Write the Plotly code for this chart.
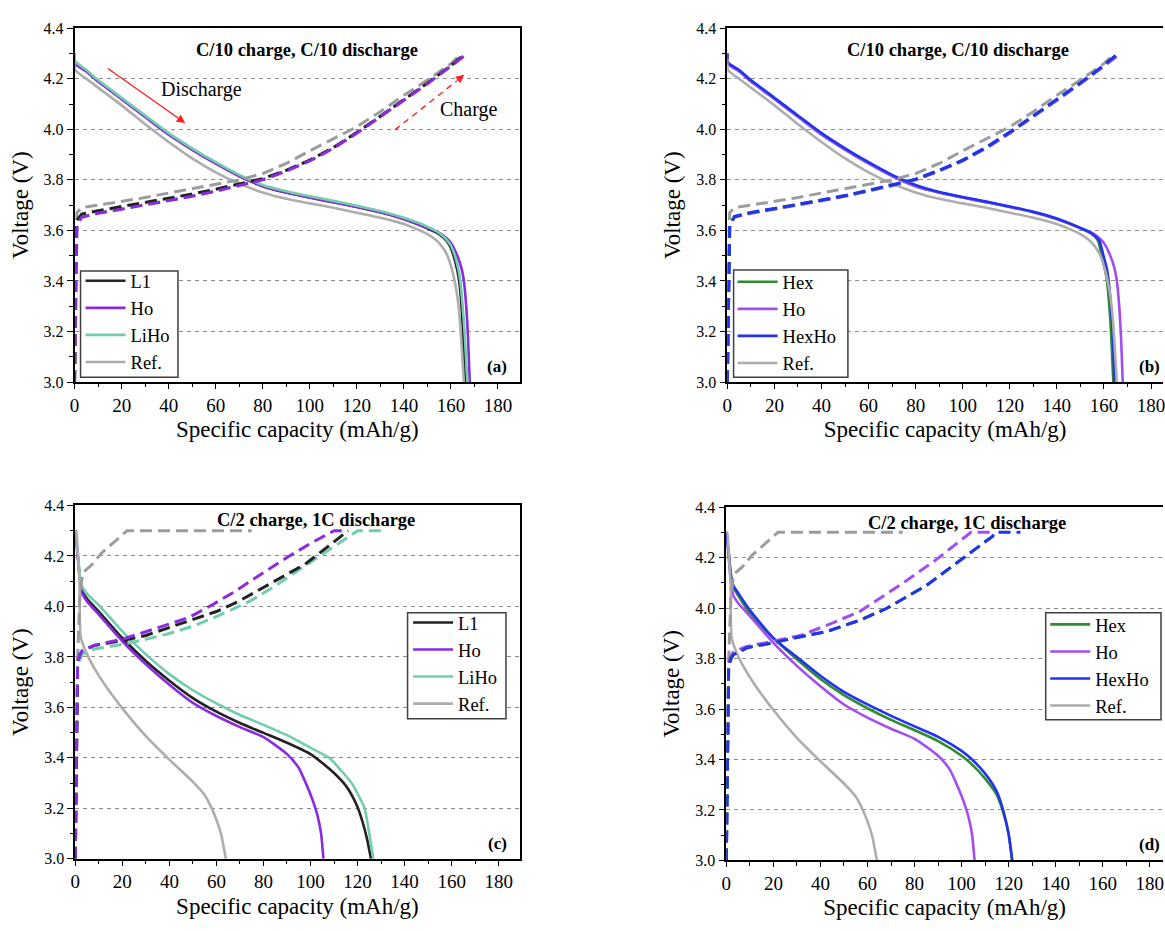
import plotly.graph_objects as go

# ---------------- Panel (a)/(b): C/10 charge, C/10 discharge ----------------
# discharge (solid) – specific capacity (mAh/g) and voltage (V)
a_L1_dis_q = [0, 0.3, 5, 10, 20, 30, 40, 50, 60, 70, 80, 90, 100, 110, 120, 130, 140, 150, 155, 158, 160, 162, 163.5, 164.5, 165.3, 166]
a_L1_dis_v = [4.30, 4.26, 4.23, 4.19, 4.12, 4.05, 3.98, 3.92, 3.865, 3.815, 3.775, 3.75, 3.73, 3.712, 3.693, 3.672, 3.645, 3.608, 3.585, 3.56, 3.53, 3.47, 3.40, 3.30, 3.15, 3.0]
ho_c10_dis_q = [0, 0.3, 5, 10, 20, 30, 40, 50, 60, 70, 80, 90, 100, 110, 120, 130, 140, 150, 155, 158, 160, 162.7, 164.5, 165.5, 166.5, 167.3, 168]
ho_c10_dis_v = [4.30, 4.26, 4.23, 4.19, 4.12, 4.05, 3.98, 3.92, 3.865, 3.815, 3.775, 3.75, 3.73, 3.712, 3.693, 3.672, 3.645, 3.61, 3.59, 3.57, 3.55, 3.50, 3.45, 3.40, 3.30, 3.17, 3.0]
a_LiHo_dis_q = [0, 0.3, 5, 10, 20, 30, 40, 50, 60, 70, 80, 90, 100, 110, 120, 130, 140, 150, 155, 158, 160, 162, 164, 165, 166, 167]
a_LiHo_dis_v = [4.30, 4.27, 4.235, 4.195, 4.125, 4.055, 3.985, 3.925, 3.87, 3.82, 3.78, 3.755, 3.735, 3.717, 3.698, 3.677, 3.65, 3.615, 3.59, 3.565, 3.54, 3.49, 3.40, 3.30, 3.17, 3.0]
ref_c10_dis_q = [0, 0.3, 5, 10, 20, 30, 40, 50, 60, 70, 80, 90, 100, 110, 120, 130, 140, 145, 150, 155, 158, 160, 162, 163.5, 164.5, 165.5]
ref_c10_dis_v = [4.28, 4.235, 4.20, 4.165, 4.095, 4.02, 3.95, 3.885, 3.83, 3.785, 3.75, 3.725, 3.707, 3.69, 3.67, 3.65, 3.625, 3.607, 3.585, 3.55, 3.51, 3.46, 3.38, 3.28, 3.15, 3.0]
b_Hex_dis_q = [0, 0.3, 5, 10, 20, 30, 40, 50, 60, 70, 80, 90, 100, 110, 120, 130, 140, 150, 155, 157.5, 159, 160.3, 161.3, 162.3, 163, 164]
b_Hex_dis_v = [4.30, 4.26, 4.23, 4.19, 4.12, 4.05, 3.98, 3.92, 3.865, 3.815, 3.775, 3.75, 3.73, 3.712, 3.693, 3.672, 3.645, 3.608, 3.585, 3.56, 3.50, 3.45, 3.40, 3.30, 3.20, 3.0]
b_HexHo_dis_q = [0, 0.3, 5, 10, 20, 30, 40, 50, 60, 70, 80, 90, 100, 110, 120, 130, 140, 150, 155, 158, 159.8, 161.2, 162, 163, 163.7, 164.5]
b_HexHo_dis_v = [4.30, 4.265, 4.235, 4.195, 4.125, 4.055, 3.985, 3.925, 3.87, 3.82, 3.78, 3.752, 3.732, 3.714, 3.695, 3.674, 3.647, 3.61, 3.587, 3.56, 3.50, 3.45, 3.40, 3.30, 3.20, 3.0]

# charge (dashed)
a_L1_chg_q = [0, 0.5, 1, 3, 10, 20, 30, 40, 50, 60, 70, 80, 90, 100, 110, 120, 130, 140, 150, 160, 166]
a_L1_chg_v = [3.0, 3.5, 3.64, 3.665, 3.678, 3.694, 3.71, 3.727, 3.744, 3.763, 3.783, 3.805, 3.838, 3.878, 3.928, 3.988, 4.052, 4.117, 4.183, 4.252, 4.30]
ho_c10_chg_q = [0, 0.5, 1, 3, 6, 10, 20, 30, 40, 50, 60, 70, 80, 90, 100, 110, 120, 130, 140, 150, 160, 167]
ho_c10_chg_v = [3.0, 3.45, 3.62, 3.652, 3.66, 3.668, 3.684, 3.70, 3.717, 3.735, 3.755, 3.777, 3.80, 3.835, 3.875, 3.925, 3.985, 4.05, 4.115, 4.18, 4.25, 4.30]
a_LiHo_chg_q = [0, 0.5, 1, 3, 6, 10, 20, 30, 40, 50, 60, 70, 80, 90, 100, 110, 120, 130, 140, 150, 160, 166.5]
a_LiHo_chg_v = [3.0, 3.45, 3.62, 3.655, 3.662, 3.67, 3.686, 3.702, 3.719, 3.737, 3.757, 3.779, 3.802, 3.837, 3.877, 3.927, 3.987, 4.052, 4.117, 4.183, 4.253, 4.30]
ref_c10_chg_q = [0, 0.5, 1, 3, 10, 20, 30, 40, 50, 60, 70, 80, 90, 100, 110, 120, 130, 140, 150, 160, 164.5]
ref_c10_chg_v = [3.0, 3.55, 3.67, 3.69, 3.70, 3.715, 3.73, 3.748, 3.765, 3.783, 3.80, 3.825, 3.865, 3.915, 3.962, 4.01, 4.07, 4.135, 4.195, 4.26, 4.30]
b_Hex_chg_q = [0, 0.5, 1, 3, 6, 10, 20, 30, 40, 50, 60, 70, 80, 90, 100, 110, 120, 130, 140, 150, 160, 166]
b_Hex_chg_v = [3.0, 3.45, 3.62, 3.655, 3.662, 3.67, 3.686, 3.702, 3.719, 3.737, 3.757, 3.779, 3.802, 3.837, 3.877, 3.928, 3.988, 4.052, 4.117, 4.183, 4.253, 4.30]
b_HexHo_chg_q = [0, 0.5, 1, 3, 6, 10, 20, 30, 40, 50, 60, 70, 80, 90, 100, 110, 120, 130, 140, 150, 160, 166]
b_HexHo_chg_v = [3.0, 3.45, 3.62, 3.655, 3.663, 3.671, 3.687, 3.703, 3.72, 3.738, 3.758, 3.78, 3.803, 3.838, 3.878, 3.929, 3.989, 4.053, 4.118, 4.184, 4.254, 4.30]

# ---------------- Panel (c)/(d): C/2 charge, 1C discharge ----------------
c_L1_dis_q = [0, 1, 2, 3, 5, 10, 20, 30, 40, 50, 60, 70, 80, 90, 100, 105, 110, 115, 118, 120, 122, 124, 125.7]
c_L1_dis_v = [4.30, 4.21, 4.11, 4.06, 4.03, 3.98, 3.875, 3.784, 3.706, 3.637, 3.583, 3.538, 3.499, 3.46, 3.415, 3.38, 3.34, 3.29, 3.245, 3.205, 3.15, 3.08, 3.0]
ho_1c_dis_q = [0, 1, 2, 3, 5, 10, 20, 30, 40, 50, 60, 70, 80, 90, 95, 98, 101, 103, 104.5, 105.5]
ho_1c_dis_v = [4.30, 4.20, 4.10, 4.05, 4.02, 3.968, 3.862, 3.771, 3.69, 3.618, 3.566, 3.522, 3.482, 3.415, 3.36, 3.30, 3.23, 3.17, 3.10, 3.0]
c_LiHo_dis_q = [0, 1, 2, 3, 5, 10, 20, 30, 40, 50, 60, 70, 80, 90, 100, 108, 113, 117.5, 120.5, 123, 125, 126.7]
c_LiHo_dis_v = [4.30, 4.22, 4.12, 4.078, 4.05, 4.005, 3.901, 3.81, 3.732, 3.668, 3.616, 3.57, 3.531, 3.49, 3.44, 3.40, 3.35, 3.30, 3.25, 3.20, 3.10, 3.0]
ref_1c_dis_q = [0, 0.4, 1, 1.8, 2.3, 5, 10, 20, 30, 40, 50, 55, 58, 60, 62, 64]
ref_1c_dis_v = [4.30, 4.30, 4.22, 4.10, 3.88, 3.81, 3.726, 3.596, 3.486, 3.393, 3.305, 3.253, 3.20, 3.155, 3.097, 3.0]
d_Hex_dis_q = [0, 1, 2, 3, 5, 10, 20, 30, 40, 50, 60, 70, 80, 90, 100, 105, 110, 115, 118, 120, 121.5]
d_Hex_dis_v = [4.30, 4.22, 4.12, 4.082, 4.05, 3.979, 3.881, 3.797, 3.719, 3.655, 3.603, 3.557, 3.516, 3.473, 3.415, 3.375, 3.324, 3.259, 3.181, 3.104, 3.0]
d_HexHo_dis_q = [0, 1, 2, 3, 5, 10, 20, 30, 40, 50, 60, 70, 80, 90, 100, 105, 110, 115, 118, 120, 121.5]
d_HexHo_dis_v = [4.30, 4.22, 4.13, 4.089, 4.06, 3.992, 3.881, 3.806, 3.732, 3.668, 3.618, 3.573, 3.531, 3.49, 3.434, 3.395, 3.344, 3.272, 3.188, 3.104, 3.0]

c_L1_chg_q = [0, 0.5, 1, 2, 3, 8, 20, 30, 41, 50, 60, 69, 83, 97.6, 107.5, 116]
c_L1_chg_v = [3.0, 3.4, 3.78, 3.81, 3.825, 3.845, 3.865, 3.885, 3.92, 3.95, 3.98, 4.018, 4.09, 4.167, 4.238, 4.30]
c_Ho_chg_q = [0, 0.5, 1, 2, 3, 8, 20, 28, 40, 48, 58, 68, 76, 91, 101, 110, 116]
c_Ho_chg_v = [3.0, 3.4, 3.78, 3.81, 3.825, 3.846, 3.87, 3.894, 3.93, 3.955, 4.005, 4.06, 4.11, 4.20, 4.255, 4.30, 4.30]
c_LiHo_chg_q = [0, 0.5, 1, 2, 3, 7.5, 20, 29.5, 40, 49.4, 58, 66, 75, 83.4, 97.6, 111.8, 120, 131.5]
c_LiHo_chg_v = [3.0, 3.4, 3.76, 3.79, 3.81, 3.83, 3.85, 3.869, 3.893, 3.92, 3.952, 3.985, 4.025, 4.072, 4.16, 4.25, 4.30, 4.30]
ref_1c_chg_q = [0, 0.5, 1, 2, 3, 4, 7, 11, 16, 22, 75]
ref_1c_chg_v = [3.0, 3.5, 3.8, 4.05, 4.12, 4.14, 4.165, 4.21, 4.25, 4.30, 4.30]
d_Hex_chg_q = [0, 0.5, 1, 2, 3, 8.9, 20, 28.6, 42.7, 56.8, 68, 85, 99, 113, 114.5]
d_Hex_chg_v = [3.0, 3.4, 3.77, 3.80, 3.815, 3.843, 3.862, 3.881, 3.907, 3.952, 3.998, 4.089, 4.186, 4.283, 4.30]
d_Ho_chg_q = [0, 0.5, 1, 2, 3, 8, 20, 31.4, 45, 56.8, 73.7, 89, 104, 114.5]
d_Ho_chg_v = [3.0, 3.4, 3.78, 3.81, 3.825, 3.846, 3.87, 3.891, 3.94, 3.987, 4.09, 4.19, 4.30, 4.30]
d_HexHo_chg_q = [0, 0.5, 1, 2, 3, 8.9, 20, 28.6, 42.7, 56.8, 68, 85, 99, 113, 114.5, 125]
d_HexHo_chg_v = [3.0, 3.4, 3.77, 3.80, 3.815, 3.843, 3.862, 3.881, 3.907, 3.952, 3.998, 4.089, 4.186, 4.283, 4.30, 4.30]

panel_titles = ["C/10 charge, C/10 discharge", "C/10 charge, C/10 discharge",
                "C/2 charge, 1C discharge", "C/2 charge, 1C discharge"]
panel_tags = ["(a)", "(b)", "(c)", "(d)"]
y_ticks = [3.0, 3.2, 3.4, 3.6, 3.8, 4.0, 4.2, 4.4]

# colours
C_L1 = "#222222"
C_HO_A = "#8A2BE2"
C_HO_B = "#A24CF2"
C_LIHO = "#72CCAE"
C_HEX = "#2E8B2E"
C_HEXHO = "#2233F0"
C_REF = "#ADADAD"
C_REF_CHG = "#9C9C9C"

FONT = "Liberation Serif"
DASH = "12px,6px"
W, H = 1165, 931

fig = go.Figure()


def refs(panel):
    s = "" if panel == 1 else str(panel)
    return "x" + s, "y" + s, "legend" + s


def add_discharge(panel, name, color, q, v):
    xa, ya, lg = refs(panel)
    fig.add_trace(go.Scatter(x=q, y=v, mode="lines", name=name,
                             line=dict(color=color, width=2.6, shape="spline", smoothing=0.6),
                             xaxis=xa, yaxis=ya, legend=lg))


def add_charge(panel, name, color, q, v):
    xa, ya, lg = refs(panel)
    fig.add_trace(go.Scatter(x=q, y=v, mode="lines", name=name, showlegend=False,
                             line=dict(color=color, width=3, dash=DASH),
                             xaxis=xa, yaxis=ya, legend=lg))


# (a)
add_discharge(1, "L1", C_L1, a_L1_dis_q, a_L1_dis_v)
add_discharge(1, "Ho", C_HO_A, ho_c10_dis_q, ho_c10_dis_v)
add_discharge(1, "LiHo", C_LIHO, a_LiHo_dis_q, a_LiHo_dis_v)
add_discharge(1, "Ref.", C_REF, ref_c10_dis_q, ref_c10_dis_v)
add_charge(1, "Ref.", C_REF_CHG, ref_c10_chg_q, ref_c10_chg_v)
add_charge(1, "LiHo", C_LIHO, a_LiHo_chg_q, a_LiHo_chg_v)
add_charge(1, "L1", C_L1, a_L1_chg_q, a_L1_chg_v)
add_charge(1, "Ho", C_HO_A, ho_c10_chg_q, ho_c10_chg_v)
# (b)
add_discharge(2, "Hex", C_HEX, b_Hex_dis_q, b_Hex_dis_v)
add_discharge(2, "Ho", C_HO_B, ho_c10_dis_q, ho_c10_dis_v)
add_discharge(2, "HexHo", C_HEXHO, b_HexHo_dis_q, b_HexHo_dis_v)
add_discharge(2, "Ref.", C_REF, ref_c10_dis_q, ref_c10_dis_v)
add_charge(2, "Ref.", C_REF_CHG, ref_c10_chg_q, ref_c10_chg_v)
add_charge(2, "Ho", C_HO_B, ho_c10_chg_q, ho_c10_chg_v)
add_charge(2, "Hex", C_HEX, b_Hex_chg_q, b_Hex_chg_v)
add_charge(2, "HexHo", C_HEXHO, b_HexHo_chg_q, b_HexHo_chg_v)
# (c)
add_discharge(3, "L1", C_L1, c_L1_dis_q, c_L1_dis_v)
add_discharge(3, "Ho", C_HO_A, ho_1c_dis_q, ho_1c_dis_v)
add_discharge(3, "LiHo", C_LIHO, c_LiHo_dis_q, c_LiHo_dis_v)
add_discharge(3, "Ref.", C_REF, ref_1c_dis_q, ref_1c_dis_v)
add_charge(3, "Ref.", C_REF_CHG, ref_1c_chg_q, ref_1c_chg_v)
add_charge(3, "LiHo", C_LIHO, c_LiHo_chg_q, c_LiHo_chg_v)
add_charge(3, "L1", C_L1, c_L1_chg_q, c_L1_chg_v)
add_charge(3, "Ho", C_HO_A, c_Ho_chg_q, c_Ho_chg_v)
# (d)
add_discharge(4, "Hex", C_HEX, d_Hex_dis_q, d_Hex_dis_v)
add_discharge(4, "Ho", C_HO_B, ho_1c_dis_q, ho_1c_dis_v)
add_discharge(4, "HexHo", C_HEXHO, d_HexHo_dis_q, d_HexHo_dis_v)
add_discharge(4, "Ref.", C_REF, ref_1c_dis_q, ref_1c_dis_v)
add_charge(4, "Ref.", C_REF_CHG, ref_1c_chg_q, ref_1c_chg_v)
add_charge(4, "Ho", C_HO_B, d_Ho_chg_q, d_Ho_chg_v)
add_charge(4, "Hex", C_HEX, d_Hex_chg_q, d_Hex_chg_v)
add_charge(4, "HexHo", C_HEXHO, d_HexHo_chg_q, d_HexHo_chg_v)

# axis geometry per panel: x domain, y domain, x range, right border shown
panels = {
    1: dict(xd=[0.0601, 0.4446], yd=[0.5908, 0.9778], xr=[0, 189.3], right=True),
    2: dict(xd=[0.6238, 1.0], yd=[0.5908, 0.9778], xr=[0, 185.1], right=False),
    3: dict(xd=[0.0607, 0.4444], yd=[0.0691, 0.4557], xr=[0, 188.9], right=True),
    4: dict(xd=[0.6229, 1.0], yd=[0.0673, 0.4540], xr=[0, 185.6], right=False),
}

for i, p in panels.items():
    xa, ya, _ = refs(i)
    xk = "xaxis" if i == 1 else f"xaxis{i}"
    yk = "yaxis" if i == 1 else f"yaxis{i}"
    fig.layout[xk] = dict(
        domain=p["xd"], range=p["xr"], anchor=ya, dtick=20, tick0=0,
        ticks="outside", ticklen=5, tickwidth=1.4, tickcolor="black",
        minor=dict(dtick=10, ticks="outside", ticklen=3.5, tickwidth=1.2, tickcolor="black"),
        showline=True, linecolor="black", linewidth=1.6, mirror=True,
        showgrid=False, zeroline=False, ticklabeloverflow="allow",
        tickfont=dict(family=FONT, size=19, color="black"),
        title=dict(text="Specific capacity (mAh/g)", standoff=6,
                   font=dict(family=FONT, size=23, color="black")),
    )
    fig.layout[yk] = dict(
        domain=p["yd"], range=[3.0, 4.4], anchor=xa,
        tickvals=y_ticks, tickformat=".1f",
        ticks="outside", ticklen=6, tickwidth=1.4, tickcolor="black",
        minor=dict(dtick=0.1, tick0=3.0, ticks="outside", ticklen=3.5, tickwidth=1.2, tickcolor="black"),
        showline=True, linecolor="black", linewidth=1.6, mirror=p["right"],
        showgrid=True, gridcolor="#8c8c8c", gridwidth=1, griddash="4px,4px",
        zeroline=False,
        tickfont=dict(family=FONT, size=16, color="black"),
        title=dict(text="Voltage (V)", standoff=9,
                   font=dict(family=FONT, size=23, color="black")),
    )

# legend frames (pixel boxes: left, top, right, bottom) and entry anchors (left, top)
legend_boxes = {1: (76, 268, 174, 376), 2: (733, 267, 848, 376),
                3: (405, 616, 504, 724), 4: (1047, 616, 1163, 725)}
legend_anchor = {1: (76, 259), 2: (732, 260), 3: (405.5, 607), 4: (1046.5, 609)}

shapes = []
for i, (l, t, r, b) in legend_boxes.items():
    shapes.append(dict(type="rect", xref="paper", yref="paper", layer="above",
                       x0=l / W, x1=r / W, y0=1 - b / H, y1=1 - t / H,
                       fillcolor="white", line=dict(color="#404040", width=1.5)))
for i, (lx, ly) in legend_anchor.items():
    key = "legend" if i == 1 else f"legend{i}"
    fig.layout[key] = dict(
        x=lx / W, y=1 - ly / H, xanchor="left", yanchor="top",
        bgcolor="rgba(0,0,0,0)", borderwidth=0,
        font=dict(family=FONT, size=18.5, color="black"),
        itemwidth=40, tracegroupgap=0,
    )

# panel titles and tags
title_pos = {1: (99.0, 4.315), 2: (98.1, 4.315), 3: (102.4, 4.342), 4: (102.4, 4.338)}
tag_right_px = {1: 507, 2: 1164, 3: 507, 4: 1164}
annotations = []
for i in panels:
    xa, ya, _ = refs(i)
    tx, ty = title_pos[i]
    annotations.append(dict(x=tx, y=ty, xref=xa, yref=ya, text=f"<b>{panel_titles[i-1]}</b>",
                            showarrow=False, font=dict(family=FONT, size=18.5, color="black"),
                            xanchor="center", yanchor="middle"))
    annotations.append(dict(x=tag_right_px[i] / W, y=3.062, xref="paper", yref=ya,
                            text=f"<b>{panel_tags[i-1]}</b>",
                            showarrow=False, font=dict(family=FONT, size=17, color="black"),
                            xanchor="right", yanchor="middle"))

# discharge / charge arrows in (a)
dis_arrow_tail = (13.5, 4.245)
dis_arrow_head = (47.0, 4.025)
chg_arrow_tail = (136.2, 3.998)
chg_arrow_head = (165.7, 4.216)
annotations.append(dict(x=dis_arrow_head[0], y=dis_arrow_head[1], ax=dis_arrow_tail[0], ay=dis_arrow_tail[1],
                        xref="x", yref="y", axref="x", ayref="y", showarrow=True,
                        arrowhead=2, arrowsize=1.2, arrowwidth=1.4, arrowcolor="#ff2020", text=""))
annotations.append(dict(x=36.0, y=4.156, xref="x", yref="y", text="Discharge", showarrow=False,
                        xanchor="left", yanchor="middle", font=dict(family=FONT, size=20, color="black")))
annotations.append(dict(x=chg_arrow_head[0], y=chg_arrow_head[1], ax=162.0, ay=4.189,
                        xref="x", yref="y", axref="x", ayref="y", showarrow=True,
                        arrowhead=2, arrowsize=1.2, arrowwidth=1.4, arrowcolor="#ff2020", text=""))
annotations.append(dict(x=154.3, y=4.08, xref="x", yref="y", text="Charge", showarrow=False,
                        xanchor="left", yanchor="middle", font=dict(family=FONT, size=20, color="black")))

shapes.append(dict(type="line", xref="x", yref="y", x0=chg_arrow_tail[0], y0=chg_arrow_tail[1],
                   x1=162.5, y1=4.192, line=dict(color="#ff2020", width=1.4, dash="6px,5px")))

fig.update_layout(
    width=W, height=H,
    margin=dict(l=0, r=0, t=0, b=0),
    paper_bgcolor="white", plot_bgcolor="white",
    font=dict(family=FONT, color="black"),
    annotations=annotations, shapes=shapes,
)

fig.write_html("out.html")
